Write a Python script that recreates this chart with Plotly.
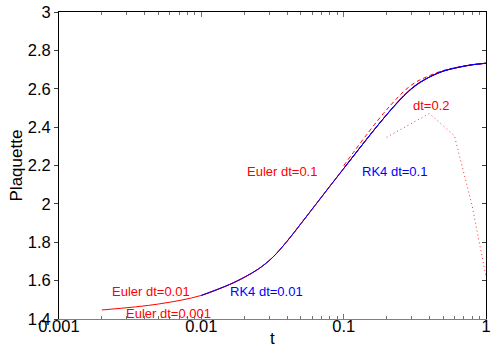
import plotly.graph_objects as go

# ---------------- data ----------------
# smooth flow curve (Euler dt=0.001, Euler dt=0.01, RK4 dt=0.01 coincide)
t_main = [0.002, 0.005, 0.01, 0.0158, 0.02, 0.0251, 0.0316, 0.0398, 0.0501, 0.0631,
          0.0794, 0.1, 0.1259, 0.1585, 0.1995, 0.2512, 0.3162, 0.3981, 0.5012,
          0.631, 0.7943, 1.0]
p_main = [1.447, 1.478, 1.523, 1.580, 1.617, 1.660, 1.720, 1.803, 1.897, 1.993,
          2.089, 2.184, 2.279, 2.373, 2.463, 2.547, 2.615, 2.660, 2.692,
          2.711, 2.725, 2.733]

t_euler001 = t_main
p_euler001 = p_main

t_euler01 = t_main[2:]
p_euler01 = p_main[2:]

t_rk4_01 = t_main[2:]
p_rk4_01 = p_main[2:]

# Euler dt=0.1 (dashed)
t_euler1 = [0.1, 0.2, 0.3, 0.4, 0.5, 0.6, 0.7, 0.8, 0.9, 1.0]
p_euler1 = [2.199, 2.490, 2.620, 2.668, 2.695, 2.709, 2.718, 2.725, 2.729, 2.733]

# RK4 dt=0.1
t_rk4_1 = [0.1, 0.2, 0.3, 0.4, 0.5, 0.6, 0.7, 0.8, 0.9, 1.0]
p_rk4_1 = [2.184, 2.463, 2.599, 2.661, 2.692, 2.707, 2.717, 2.725, 2.729, 2.733]

# Euler dt=0.2 (dotted)
t_euler2 = [0.2, 0.4, 0.6, 0.8, 1.0]
p_euler2 = [2.347, 2.471, 2.355, 1.989, 1.620]

x_tickvals = [0.001, 0.01, 0.1, 1]
x_ticktext = ["0.001", "0.01", "0.1", "1"]
x_minor = [0.002, 0.003, 0.004, 0.005, 0.006, 0.007, 0.008, 0.009,
           0.02, 0.03, 0.04, 0.05, 0.06, 0.07, 0.08, 0.09,
           0.2, 0.3, 0.4, 0.5, 0.6, 0.7, 0.8, 0.9]
y_tickvals = [1.4, 1.6, 1.8, 2.0, 2.2, 2.4, 2.6, 2.8, 3.0]
y_ticktext = ["1.4", "1.6", "1.8", "2", "2.2", "2.4", "2.6", "2.8", "3"]

labels = [
    ("Euler dt=0.01", "red"),
    ("Euler dt=0.001", "red"),
    ("RK4 dt=0.01", "blue"),
    ("Euler dt=0.1", "red"),
    ("RK4 dt=0.1", "blue"),
    ("dt=0.2", "red"),
]
label_pos = [(0.1218, 0.0912), (0.1546, 0.0195), (0.398, 0.0912),
             (0.438, 0.479), (0.7073, 0.479), (0.8267, 0.697)]

FONT = "Liberation Sans, Arial, Helvetica, sans-serif"
RED = "#ff0000"
BLUE = "#0000ff"

fig = go.Figure()
fig.add_trace(go.Scatter(x=t_euler001, y=p_euler001, mode="lines", line_shape="spline",
                         line=dict(color=RED, width=1)))
fig.add_trace(go.Scatter(x=t_euler01, y=p_euler01, mode="lines", line_shape="spline",
                         line=dict(color=RED, width=1)))
fig.add_trace(go.Scatter(x=t_euler1, y=p_euler1, mode="lines", line_shape="spline",
                         line=dict(color=RED, width=1, dash="4px,3px")))
fig.add_trace(go.Scatter(x=t_euler2, y=p_euler2, mode="lines",
                         line=dict(color="#ff3030", width=1, dash="1px,3px")))
fig.add_trace(go.Scatter(x=t_rk4_01, y=p_rk4_01, mode="lines", line_shape="spline",
                         line=dict(color=BLUE, width=1)))
fig.add_trace(go.Scatter(x=t_rk4_1, y=p_rk4_1, mode="lines", line_shape="spline",
                         line=dict(color=BLUE, width=1)))
# carrier for the mirrored top / right axes
fig.add_trace(go.Scatter(x=[], y=[], xaxis="x2", yaxis="y2", mode="lines",
                         hoverinfo="skip"))

tickfont = dict(family=FONT, size=16.5, color="black")

fig.update_layout(
    width=500, height=350,
    margin=dict(l=59, r=14, t=12, b=31, pad=0),
    plot_bgcolor="white", paper_bgcolor="white",
    showlegend=False,
    font=dict(family=FONT, color="black"),
    xaxis=dict(type="log", range=[-3, 0], tickmode="array",
               tickvals=x_tickvals, ticktext=x_ticktext,
               ticks="inside", ticklen=5, tickcolor="#707070", tickwidth=1,
               minor=dict(tickmode="array", tickvals=x_minor, ticks="inside",
                          ticklen=3, tickcolor="#707070", showgrid=False),
               showline=True, linecolor="#808080", linewidth=1,
               showgrid=False, zeroline=False, tickfont=tickfont,
               automargin=False, ticklabelstandoff=-8),
    xaxis2=dict(type="log", range=[-3, 0], overlaying="x", side="top", anchor="y2",
                tickmode="array", tickvals=x_tickvals, ticks="inside", ticklen=5,
                tickcolor="#707070",
                minor=dict(tickmode="array", tickvals=x_minor, ticks="inside",
                           ticklen=3, tickcolor="#707070", showgrid=False),
                showticklabels=False, showline=True, linecolor="black", linewidth=1,
                showgrid=False, zeroline=False, automargin=False),
    yaxis=dict(range=[1.4, 3.0], tickmode="array", tickvals=y_tickvals,
               ticktext=y_ticktext, ticks="outside", ticklen=4, tickcolor="#404040",
               showline=True, linecolor="black", linewidth=1,
               showgrid=False, zeroline=False, tickfont=tickfont, automargin=False),
    yaxis2=dict(range=[1.4, 3.0], overlaying="y", side="right", anchor="x2",
                tickmode="array", tickvals=y_tickvals, ticks="inside", ticklen=4,
                tickcolor="#404040", showticklabels=False,
                showline=True, linecolor="black", linewidth=1,
                showgrid=False, zeroline=False, automargin=False),
)

annotations = []
for (txt, col), (px, py) in zip(labels, label_pos):
    annotations.append(dict(text=txt, x=px, y=py, xref="paper", yref="paper",
                            xanchor="left", yanchor="middle", showarrow=False,
                            borderpad=0,
                            font=dict(family=FONT, size=13, color=col)))
annotations.append(dict(text="t", x=0.5, y=-0.101, xref="paper", yref="paper",
                        xanchor="center", yanchor="bottom", showarrow=False,
                        font=dict(family=FONT, size=17, color="black")))
annotations.append(dict(text="Plaquette", x=-0.0984, y=0.5, xref="paper", yref="paper",
                        xanchor="center", yanchor="middle", textangle=-90,
                        showarrow=False,
                        font=dict(family=FONT, size=17, color="black")))
fig.update_layout(annotations=annotations)

fig.write_html("out.html", config={"displayModeBar": False},
               post_script="document.body.style.margin='0';document.body.style.overflow='hidden';")
